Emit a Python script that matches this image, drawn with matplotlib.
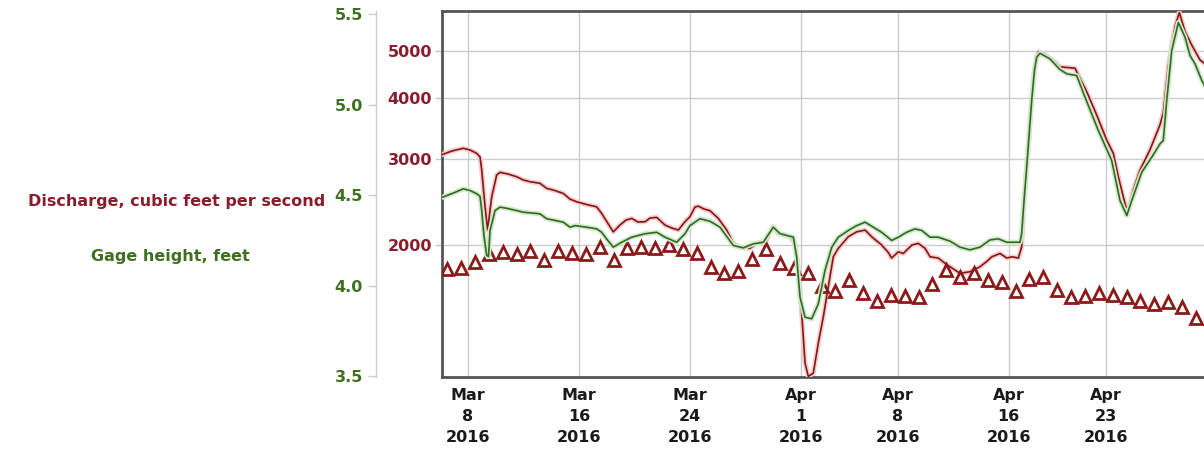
import matplotlib
matplotlib.use("Agg")
import matplotlib.pyplot as plt
import matplotlib.patheffects as pe
from matplotlib.ticker import NullLocator
import numpy as np
import pandas as pd

# ---- data -------------------------------------------------------------
start = pd.Timestamp("2016-03-06")

# discharge (cfs), time as days after 2016-03-06 00:00
discharge_days = [0.17, 0.85, 1.66, 2.14, 2.63, 2.87, 2.99, 3.23, 3.42, 3.59, 3.71, 4.07, 4.31, 4.89,
                  5.51, 5.99, 6.47, 7.19, 7.68, 8.15, 8.87, 9.36, 9.84, 10.56, 11.28, 11.64, 12.03,
                  12.48, 12.96, 13.40, 13.81, 14.26, 14.77, 15.13, 15.61, 16.21, 16.72, 17.17, 17.65,
                  18.01, 18.37, 18.61, 19.02, 19.46, 20.06, 20.66, 21.14, 21.62, 22.34, 22.83, 23.55,
                  23.78, 24.02, 24.38, 24.87, 25.23, 25.59, 25.83, 26.07, 26.31, 26.55, 26.91, 27.27,
                  27.63, 27.99, 28.35, 28.71, 29.43, 30.04, 30.64, 31.12, 31.84, 32.30, 32.56, 33.04,
                  33.40, 34.01, 34.48, 34.97, 35.33, 35.92, 36.41, 36.77, 37.49, 38.21, 38.93, 39.37,
                  39.78, 40.38, 40.86, 41.24, 41.70, 41.94, 42.11, 42.30, 42.66, 42.86, 43.02, 43.14,
                  43.55, 43.98, 44.34, 44.70, 45.21, 45.79, 46.02, 46.63, 47.35, 48.07, 48.55, 48.91,
                  49.27, 49.46, 49.63, 49.99, 50.47, 51.19, 51.91, 52.15, 52.51, 53.00, 53.31, 53.72,
                  54.20, 54.80, 55.09]
discharge_cfs = [3070, 3120, 3160, 3135, 3085, 3030, 2850, 2395, 2147, 2360, 2512, 2785, 2820, 2798,
                 2762, 2720, 2698, 2678, 2614, 2594, 2553, 2485, 2454, 2422, 2396, 2323, 2230, 2129,
                 2198, 2251, 2268, 2230, 2233, 2272, 2280, 2198, 2167, 2147, 2233, 2287, 2393, 2404,
                 2372, 2352, 2268, 2147, 2016, 1978, 1969, 2016, 2048, 2125, 2182, 2113, 2097, 2080,
                 2016, 1777, 1451, 1145, 1075, 1092, 1259, 1425, 1642, 1892, 1969, 2080, 2129, 2147,
                 2080, 2000, 1934, 1881, 1937, 1922, 2000, 2016, 1969, 1892, 1881, 1835, 1805, 1750,
                 1763, 1805, 1846, 1892, 1922, 1881, 1892, 1881, 1984, 2475, 2897, 3971, 4575, 4872,
                 4988, 4936, 4834, 4750, 4640, 4630, 4612, 4468, 4128, 3698, 3286, 3085, 2762, 2512,
                 2393, 2360, 2594, 2850, 3135, 3528, 3728, 4645, 5615, 6005, 5483, 5150, 4798, 4728]

# gage height (ft), time as days after 2016-03-06 00:00
gage_days = [0.17, 0.85, 1.66, 2.14, 2.63, 2.87, 2.99, 3.15, 3.35, 3.48, 3.59, 3.95, 4.31, 4.89, 5.51,
             5.99, 7.19, 7.68, 8.87, 9.36, 9.72, 10.56, 11.28, 11.64, 12.03, 12.48, 13.09, 13.81,
             14.77, 15.61, 16.21, 17.05, 17.65, 18.01, 18.37, 18.73, 19.46, 20.18, 21.14, 21.86,
             22.58, 23.30, 24.02, 24.51, 25.47, 25.71, 25.95, 26.31, 26.79, 27.27, 27.75, 28.24,
             28.71, 29.43, 30.04, 30.64, 31.24, 31.84, 32.56, 33.04, 33.64, 34.24, 34.73, 35.33,
             35.92, 36.77, 37.49, 38.21, 38.93, 39.66, 40.25, 40.86, 41.82, 41.94, 42.11, 42.30,
             42.66, 42.86, 43.02, 43.26, 43.98, 44.70, 45.21, 45.91, 46.51, 47.47, 48.43, 49.03,
             49.52, 49.88, 50.60, 51.32, 51.92, 52.15, 52.40, 52.76, 53.24, 53.72, 54.08, 54.44,
             54.93, 55.09]
gage_ft = [4.488, 4.508, 4.534, 4.525, 4.507, 4.492, 4.414, 4.276, 4.166, 4.160, 4.304, 4.414, 4.433,
           4.425, 4.414, 4.405, 4.396, 4.369, 4.350, 4.322, 4.331, 4.322, 4.313, 4.294, 4.254, 4.212,
           4.239, 4.267, 4.286, 4.294, 4.267, 4.239, 4.286, 4.331, 4.350, 4.369, 4.355, 4.322, 4.221,
           4.208, 4.230, 4.239, 4.322, 4.286, 4.267, 4.156, 3.935, 3.825, 3.816, 3.899, 4.083, 4.212,
           4.267, 4.304, 4.331, 4.350, 4.322, 4.294, 4.249, 4.267, 4.294, 4.313, 4.304, 4.267, 4.267,
           4.245, 4.212, 4.197, 4.212, 4.252, 4.258, 4.239, 4.239, 4.287, 4.470, 4.654, 5.022, 5.188,
           5.261, 5.283, 5.252, 5.193, 5.169, 5.160, 5.040, 4.856, 4.691, 4.470, 4.387, 4.470, 4.626,
           4.709, 4.783, 4.801, 5.022, 5.298, 5.453, 5.372, 5.271, 5.225, 5.133, 5.110]

# daily median discharge (cfs), one value per day at noon, Mar 6 - Apr 29
median_cfs = [1783, 1791, 1848, 1914, 1937, 1914, 1946, 1863, 1944, 1923, 1914, 1984, 1863, 1975,
              1978, 1969, 2000, 1960, 1923, 1805, 1755, 1771, 1870, 1960, 1839, 1795,
              1750, 1645, 1611, 1697, 1595, 1533, 1583, 1571, 1566, 1665, 1777, 1717, 1755, 1695,
              1681, 1608, 1700, 1717, 1616, 1561, 1571, 1597, 1579, 1561, 1537, 1513, 1530, 1490, 1414]

date_ticks = ["2016-03-08", "2016-03-16", "2016-03-24", "2016-04-01",
              "2016-04-08", "2016-04-16", "2016-04-23"]
date_labels = ["Mar\n8\n2016", "Mar\n16\n2016", "Mar\n24\n2016", "Apr\n1\n2016",
               "Apr\n8\n2016", "Apr\n16\n2016", "Apr\n23\n2016"]
discharge_ticks = [2000, 3000, 4000, 5000]
gage_ticks = [3.5, 4.0, 4.5, 5.0, 5.5]

# ---- styling ----------------------------------------------------------
RED_TXT = "#8b1c2c"
GREEN_TXT = "#3f6f22"
RED_LINE = "#8a1414"
GREEN_LINE = "#2f6b1f"
FONT = 11.5

def to_time(days):
    return (start + pd.to_timedelta(np.asarray(days), unit="D")).to_numpy()

W, H = 1204, 453
fig = plt.figure(figsize=(W / 100, H / 100), dpi=100)
ax = fig.add_axes([442 / W, 1 - 377 / H, 762 / W, 366 / H])

ax.set_yscale("log")
ax.set_ylim(1072, 6046)
ax.set_xlim(start + pd.Timedelta(days=0.1245), start + pd.Timedelta(days=55.09))
ax.yaxis.set_minor_locator(NullLocator())
ax.set_yticks(discharge_ticks, labels=[str(v) for v in discharge_ticks],
              fontweight="bold", fontsize=FONT, color=RED_TXT)
ax.tick_params(axis="y", length=5, width=1, color="#c8c8c8", pad=2)

ax.set_xticks(pd.to_datetime(date_ticks).to_numpy(), labels=date_labels,
              fontweight="bold", fontsize=FONT, color="#1a1a1a")
for lbl in ax.get_xticklabels():
    lbl.set_linespacing(1.5)
ax.tick_params(axis="x", length=0, pad=8)
ax.xaxis.set_minor_locator(NullLocator())

ax.grid(True, which="major", color="#cccccc", linewidth=1)
ax.set_axisbelow(True)
for side in ("left", "top", "bottom"):
    ax.spines[side].set_color("#555555")
    ax.spines[side].set_linewidth(2)
ax.spines["right"].set_visible(False)

# discharge line and daily medians
ax.plot(to_time(discharge_days), discharge_cfs, color=RED_LINE, lw=1.2, zorder=3,
        path_effects=[pe.Stroke(linewidth=3.6, foreground="#f2cfcf"), pe.Normal()])
median_times = pd.date_range("2016-03-06 12:00", periods=len(median_cfs), freq="D").to_numpy()
ax.plot(median_times, median_cfs, linestyle="none", marker="^", ms=9,
        mfc="white", mec="#8b1a1a", mew=2.0, zorder=4)

# gage height on its own axis, spine set off to the left
ax2 = ax.twinx()
ax2.set_ylim(3.4945, 5.5166)
ax2.yaxis.tick_left()
ax2.spines["left"].set_position(("axes", (375.5 - 442) / 762))
ax2.spines["left"].set_color("#cccccc")
ax2.spines["left"].set_linewidth(1)
for side in ("right", "top", "bottom"):
    ax2.spines[side].set_visible(False)
ax2.set_yticks(gage_ticks, labels=[f"{v:.1f}" for v in gage_ticks],
               fontweight="bold", fontsize=FONT, color=GREEN_TXT)
ax2.tick_params(axis="y", length=6, width=1, color="#cccccc", pad=3)
ax2.plot(to_time(gage_days), gage_ft, color=GREEN_LINE, lw=1.2, zorder=3,
         path_effects=[pe.Stroke(linewidth=3.6, foreground="#d3e8cc"), pe.Normal()])

fig.text(325 / W, 1 - 201 / H, "Discharge, cubic feet per second", ha="right", va="center",
         color=RED_TXT, fontweight="bold", fontsize=FONT)
fig.text(170 / W, 1 - 256 / H, "Gage height, feet", ha="center", va="center",
         color=GREEN_TXT, fontweight="bold", fontsize=FONT)

fig.savefig("out.png", dpi=100)
